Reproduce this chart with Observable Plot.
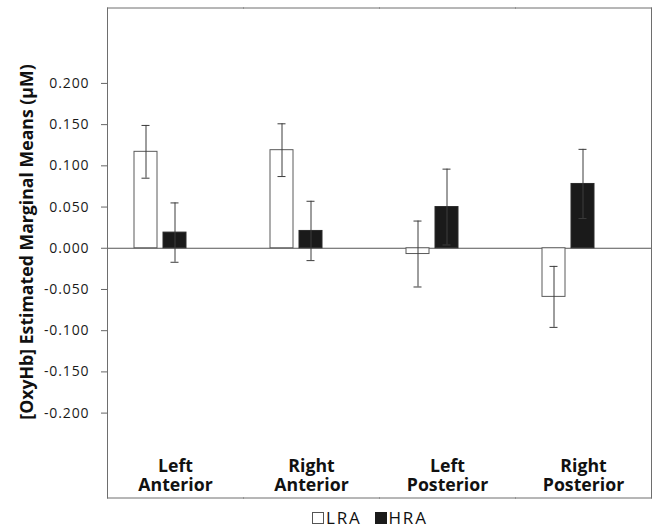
<!DOCTYPE html>
<html><head><meta charset="utf-8">
<script src="https://cdn.jsdelivr.net/npm/d3@7"></script>
<script src="https://cdn.jsdelivr.net/npm/@observablehq/plot@0.6"></script>
<style>
body{margin:0;background:#fff;font-family:"Open Sans",sans-serif;overflow:hidden;}
#chart{position:relative;width:657px;height:528px;}
#legend{position:absolute;left:312px;top:508px;height:19px;display:flex;align-items:center;font-size:17px;color:#111;letter-spacing:1.8px;line-height:19px;}
#legend .item{display:flex;align-items:center;margin-right:13px;}
#legend .sw{display:inline-block;width:12px;height:12px;box-sizing:border-box;margin-right:2px;}
g[aria-label="y-axis tick label"] text{letter-spacing:0.9px;}
</style></head><body><div id="chart"><div id="legend"></div></div>
<script>
const categories = ["Left Anterior", "Right Anterior", "Left Posterior", "Right Posterior"];
const series = ["LRA", "HRA"];
const lraMeans = [0.117, 0.119, -0.007, -0.059];
const lraErr = [0.032, 0.032, 0.040, 0.037];
const hraMeans = [0.019, 0.021, 0.050, 0.078];
const hraErr = [0.036, 0.036, 0.046, 0.042];
const yTicks = [-0.2, -0.15, -0.1, -0.05, 0, 0.05, 0.1, 0.15, 0.2];
const yLabel = "[OxyHb] Estimated Marginal Means (µM)";
const seriesFill = ["#ffffff", "#1a1a1a"];
const seriesStroke = ["#5a5a5a", "#2a2a2a"];

const rows = [];
categories.forEach((c, i) => {
  rows.push({category: c, series: "LRA", mean: lraMeans[i], err: lraErr[i]});
  rows.push({category: c, series: "HRA", mean: hraMeans[i], err: hraErr[i]});
});
const lra = rows.filter(d => d.series === "LRA");
const hra = rows.filter(d => d.series === "HRA");
const errStroke = "#3c3c3c";

const plot = Plot.plot({
  width: 657,
  height: 506,
  marginLeft: 106,
  marginRight: 5,
  marginTop: 7.5,
  marginBottom: 8.5,
  style: {fontFamily: "Open Sans", fontSize: "14px", color: "#111", background: "#fff", overflow: "visible"},
  fx: {domain: categories, padding: 0, label: null},
  x: {domain: [...series, "_"], paddingInner: 0.2, paddingOuter: 0.875, axis: null},
  y: {domain: [-0.303, 0.2915]},
  marks: [
    Plot.ruleY([0], {stroke: "#555", strokeWidth: 1}),
    Plot.barY(lra, {fx: "category", x: "series", y: "mean", fill: seriesFill[0], stroke: seriesStroke[0], strokeWidth: 1}),
    Plot.barY(hra, {fx: "category", x: "series", y: "mean", fill: seriesFill[1], stroke: seriesStroke[1], strokeWidth: 1}),
    Plot.ruleX(rows, {fx: "category", x: "series", y1: d => d.mean - d.err, y2: d => d.mean + d.err, stroke: errStroke, strokeWidth: 1}),
    Plot.tickY(rows, {fx: "category", x: "series", y: d => d.mean + d.err, insetLeft: 7.5, insetRight: 7.5, stroke: errStroke, strokeWidth: 1}),
    Plot.tickY(rows, {fx: "category", x: "series", y: d => d.mean - d.err, insetLeft: 7.5, insetRight: 7.5, stroke: errStroke, strokeWidth: 1}),
    Plot.frame({anchor: "top", stroke: "#6e6e6e"}),
    Plot.frame({anchor: "bottom", stroke: "#6e6e6e"}),
    Plot.frame({anchor: "left", facetAnchor: "left", stroke: "#6e6e6e"}),
    Plot.frame({anchor: "right", facetAnchor: "right", stroke: "#6e6e6e"}),
    Plot.axisY(yTicks, {tickFormat: d => d.toFixed(3), tickSize: 6, tickPadding: 12, stroke: "#666", fill: "#1a1a1a", fontSize: 14, label: null}),
    Plot.axisFx({anchor: "bottom", tickSize: 0, tickPadding: -40.7, fontSize: 17.7, fontWeight: "bold", lineHeight: 1.13, fill: "#111", tickFormat: d => d.replace(" ", "\n"), label: null}),
    Plot.text([yLabel], {text: d => d, frameAnchor: "left", facetAnchor: "left", rotate: -90, textAnchor: "middle", lineAnchor: "top", dx: -87.5, dy: -11, fontSize: 17.7, fontWeight: "bold", fill: "#111"})
  ]
});
document.getElementById("chart").prepend(plot);

const legend = document.getElementById("legend");
series.forEach((s, i) => {
  const item = document.createElement("span");
  item.className = "item";
  const sw = document.createElement("span");
  sw.className = "sw";
  sw.style.background = seriesFill[i];
  sw.style.border = "1px solid " + (i === 0 ? "#555" : seriesFill[i]);
  item.appendChild(sw);
  item.appendChild(document.createTextNode(s));
  legend.appendChild(item);
});
</script>
</body></html>
